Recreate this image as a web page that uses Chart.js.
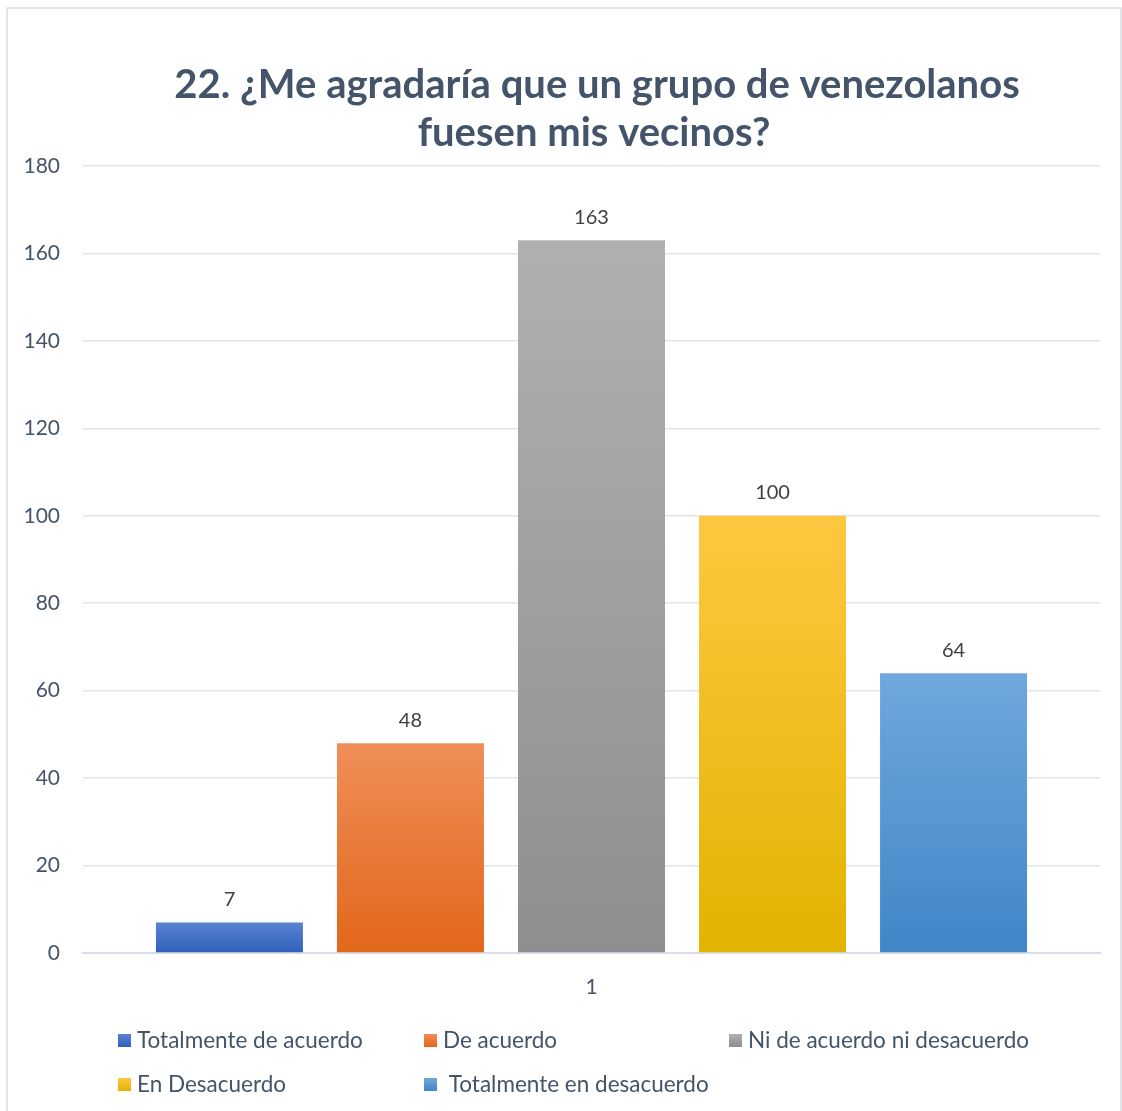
<!DOCTYPE html>
<html>
<head>
<meta charset="utf-8">
<script src="https://cdn.jsdelivr.net/npm/chart.js@4.4.1/dist/chart.umd.min.js"></script>
<style>
  html, body { margin: 0; padding: 0; background: #ffffff; }
  #wrap { position: relative; width: 1122px; height: 1111px; }
  canvas { display: block; }
</style>
</head>
<body>
<div id="wrap"><canvas id="c" width="1122" height="1111"></canvas></div>
<script>
const titleLines = ['22. ¿Me agradaría que un grupo de venezolanos', 'fuesen mis vecinos?'];
const categories = ['1'];
const seriesNames = ['Totalmente de acuerdo', 'De acuerdo', 'Ni de acuerdo ni desacuerdo', 'En Desacuerdo', ' Totalmente en desacuerdo'];
const seriesValues = [7, 48, 163, 100, 64];
const gradTop = ['#5b84d2', '#f08e58', '#b0b0b0', '#ffc740', '#70a8de'];
const gradBottom = ['#2e60ba', '#e2671a', '#8e8e8e', '#e2b300', '#3f86c7'];
const yTicks = [0, 20, 40, 60, 80, 100, 120, 140, 160, 180];

const FONT = 'Lato, "Open Sans", sans-serif';
const TEXT = '#44546a';

function barGradient(i) {
  return function (ctx) {
    const chart = ctx.chart;
    if (!chart.chartArea || !chart.scales.y) return gradBottom[i];
    const y = chart.scales.y;
    const top = y.getPixelForValue(seriesValues[i]);
    const base = y.getPixelForValue(0);
    const g = chart.ctx.createLinearGradient(0, top, 0, base);
    g.addColorStop(0, gradTop[i]);
    g.addColorStop(1, gradBottom[i]);
    return g;
  };
}

const datasets = seriesNames.map((name, i) => ({
  label: name,
  data: [seriesValues[i]],
  backgroundColor: barGradient(i),
  borderWidth: 0,
  categoryPercentage: 0.89,
  barPercentage: 0.812
}));

const extras = {
  id: 'extras',
  beforeDraw(chart) {
    const c = chart.ctx;
    c.save();
    c.fillStyle = '#ffffff';
    c.fillRect(0, 0, chart.width, chart.height);
    c.strokeStyle = '#d9dce3';
    c.lineWidth = 1.5;
    c.strokeRect(7, 8, 1114, 1110);
    // title
    c.font = 'bold 40px ' + FONT;
    c.fillStyle = TEXT;
    c.textAlign = 'center';
    c.textBaseline = 'middle';
    c.fillText(titleLines[0], 597, 85);
    c.fillText(titleLines[1], 594, 133);
    c.restore();
  },
  afterDatasetsDraw(chart) {
    const c = chart.ctx;
    c.save();
    c.font = '20px ' + FONT;
    c.fillStyle = '#404040';
    c.textAlign = 'center';
    c.textBaseline = 'middle';
    chart.data.datasets.forEach((ds, i) => {
      const meta = chart.getDatasetMeta(i);
      meta.data.forEach((bar, j) => {
        c.fillText(String(ds.data[j]), bar.x, bar.y - 23);
      });
    });
    // legend
    const cols = [118, 424, 729];
    const rows = [1040, 1084];
    c.font = '22.5px ' + FONT;
    c.textAlign = 'left';
    chart.data.datasets.forEach((ds, i) => {
      const col = cols[i % 3];
      const row = rows[Math.floor(i / 3)];
      const g = c.createLinearGradient(0, row - 6, 0, row + 7);
      g.addColorStop(0, gradTop[i]);
      g.addColorStop(1, gradBottom[i]);
      c.fillStyle = g;
      c.fillRect(col, row - 6, 13, 13);
      c.fillStyle = TEXT;
      c.fillText(ds.label, col + 19, row + 1);
    });
    c.restore();
  }
};

new Chart(document.getElementById('c'), {
  type: 'bar',
  data: { labels: categories, datasets },
  plugins: [extras],
  options: {
    responsive: false,
    animation: false,
    layout: { padding: { left: 0, right: 22, top: 166, bottom: 0 } },
    plugins: {
      legend: { display: false },
      tooltip: { enabled: false },
      title: { display: false }
    },
    scales: {
      x: {
        grid: { display: false, drawTicks: false },
        border: { display: true, color: '#d9dde6', width: 2 },
        ticks: { color: TEXT, font: { family: FONT, size: 21 }, padding: 22 },
        afterFit(scale) { scale.height = 158; }
      },
      y: {
        min: 0,
        max: 180,
        afterBuildTicks(scale) { scale.ticks = yTicks.map(v => ({ value: v })); },
        grid: { color: '#e1e4ea', lineWidth: 1.5, drawTicks: false },
        border: { display: false },
        ticks: { color: TEXT, font: { family: FONT, size: 21 }, padding: 23 },
        afterFit(scale) { scale.width = 83; }
      }
    }
  }
});
</script>
</body>
</html>
